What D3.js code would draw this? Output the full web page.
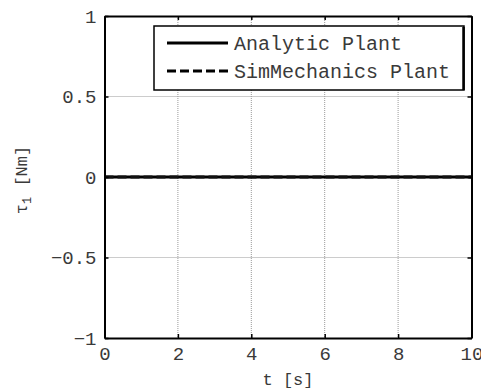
<!DOCTYPE html>
<html><head><meta charset="utf-8">
<script src="https://cdn.jsdelivr.net/npm/d3@7"></script>
<style>body{margin:0;background:#fff}</style>
</head><body>
<svg id="c" width="481" height="391"></svg>
<script>
const tValues = [0, 1, 2, 3, 4, 5, 6, 7, 8, 9, 10];
const analytic = [0, 0, 0, 0, 0, 0, 0, 0, 0, 0, 0];
const simMech = [0, 0, 0, 0, 0, 0, 0, 0, 0, 0, 0];
const xTicks = [0, 2, 4, 6, 8, 10];
const yTicks = [-1, -0.5, 0, 0.5, 1];
const seriesNames = ["Analytic Plant", "SimMechanics Plant"];

const svg = d3.select("#c");
const L = 104.5, R = 471.5, T = 16, B = 338;
const x = d3.scaleLinear().domain([0, 10]).range([L, R]);
const y = d3.scaleLinear().domain([-1, 1]).range([B, T]);
const font = "'Liberation Mono', 'Courier New', monospace";
const txt = "#3a3a3a";

// grid
const g = svg.append("g");
g.selectAll(".vx").data(xTicks.slice(1, -1)).enter().append("line")
  .attr("x1", d => x(d)).attr("x2", d => x(d)).attr("y1", T).attr("y2", B)
  .attr("stroke", "#999").attr("stroke-width", 1).attr("stroke-dasharray", "1,1");
g.selectAll(".hy").data(yTicks.slice(1, -1)).enter().append("line")
  .attr("y1", d => y(d)).attr("y2", d => y(d)).attr("x1", L).attr("x2", R)
  .attr("stroke", "#999").attr("stroke-width", 1).attr("stroke-dasharray", "1,1");

// data lines
const line = d3.line().x((d, i) => x(tValues[i])).y(d => y(d));
svg.append("path").datum(analytic).attr("d", line).attr("fill", "none")
  .attr("stroke", "#000").attr("stroke-width", 3);
svg.append("path").datum(simMech).attr("d", line).attr("fill", "none")
  .attr("stroke", "#111").attr("stroke-width", 3).attr("stroke-dasharray", "9,4");

// axes
const xAxisB = d3.axisBottom(x).tickValues(xTicks).tickSizeInner(-4).tickSizeOuter(0).tickPadding(9).tickFormat(d3.format("d"));
const xAxisT = d3.axisTop(x).tickValues(xTicks).tickSizeInner(-4).tickSizeOuter(0).tickFormat("");
const yAxisL = d3.axisLeft(y).tickValues(yTicks).tickSizeInner(-4).tickSizeOuter(0).tickPadding(8)
  .tickFormat(d => d === 0 ? "0" : (d < 0 ? "\u2212" : "") + String(Math.abs(d)));
const yAxisR = d3.axisRight(y).tickValues(yTicks).tickSizeInner(-4).tickSizeOuter(0).tickFormat("");

function style(sel) {
  sel.select(".domain").attr("stroke", "#000").attr("stroke-width", 2);
  sel.selectAll(".tick line").attr("stroke", "#000").attr("stroke-width", 1.5);
  sel.selectAll("text").attr("font-family", font).attr("font-size", 19).attr("fill", txt);
}
svg.append("g").attr("transform", `translate(0,${B})`).call(xAxisB).call(style);
svg.append("g").attr("transform", `translate(0,${T})`).call(xAxisT).call(style);
svg.append("g").attr("transform", `translate(${L},0)`).call(yAxisL).call(style);
svg.append("g").attr("transform", `translate(${R},0)`).call(yAxisR).call(style);

// axis labels
svg.append("text").attr("x", (L + R) / 2).attr("y", 385).attr("text-anchor", "middle")
  .attr("font-family", font).attr("font-size", 17).attr("fill", txt).text("t [s]");
const yl = svg.append("text").attr("transform", `translate(27,${(T + B) / 2 + 3}) rotate(-90)`)
  .attr("text-anchor", "middle").attr("font-family", font).attr("font-size", 17).attr("fill", txt);
yl.append("tspan").text("\u03c4");
yl.append("tspan").attr("font-size", 12).attr("dy", 4).text("1");
yl.append("tspan").attr("dy", -4).text(" [Nm]");

// legend
const lg = svg.append("g");
lg.append("rect").attr("x", 154).attr("y", 26).attr("width", 310).attr("height", 64)
  .attr("fill", "#fff").attr("stroke", "#000").attr("stroke-width", 1.5);
lg.append("line").attr("x1", 463.5).attr("x2", 463.5).attr("y1", 27).attr("y2", 90).attr("stroke", "#000").attr("stroke-width", 2.5);
const rows = [{name: seriesNames[0], dash: null, yy: 43}, {name: seriesNames[1], dash: "9,4", yy: 71}];
rows.forEach(r => {
  lg.append("line").attr("x1", 167).attr("x2", 228).attr("y1", r.yy).attr("y2", r.yy)
    .attr("stroke", "#000").attr("stroke-width", 3).attr("stroke-dasharray", r.dash);
  lg.append("text").attr("x", 234).attr("y", r.yy + 7).attr("font-family", font)
    .attr("font-size", 20).attr("fill", txt).text(r.name);
});
</script>
</body></html>
